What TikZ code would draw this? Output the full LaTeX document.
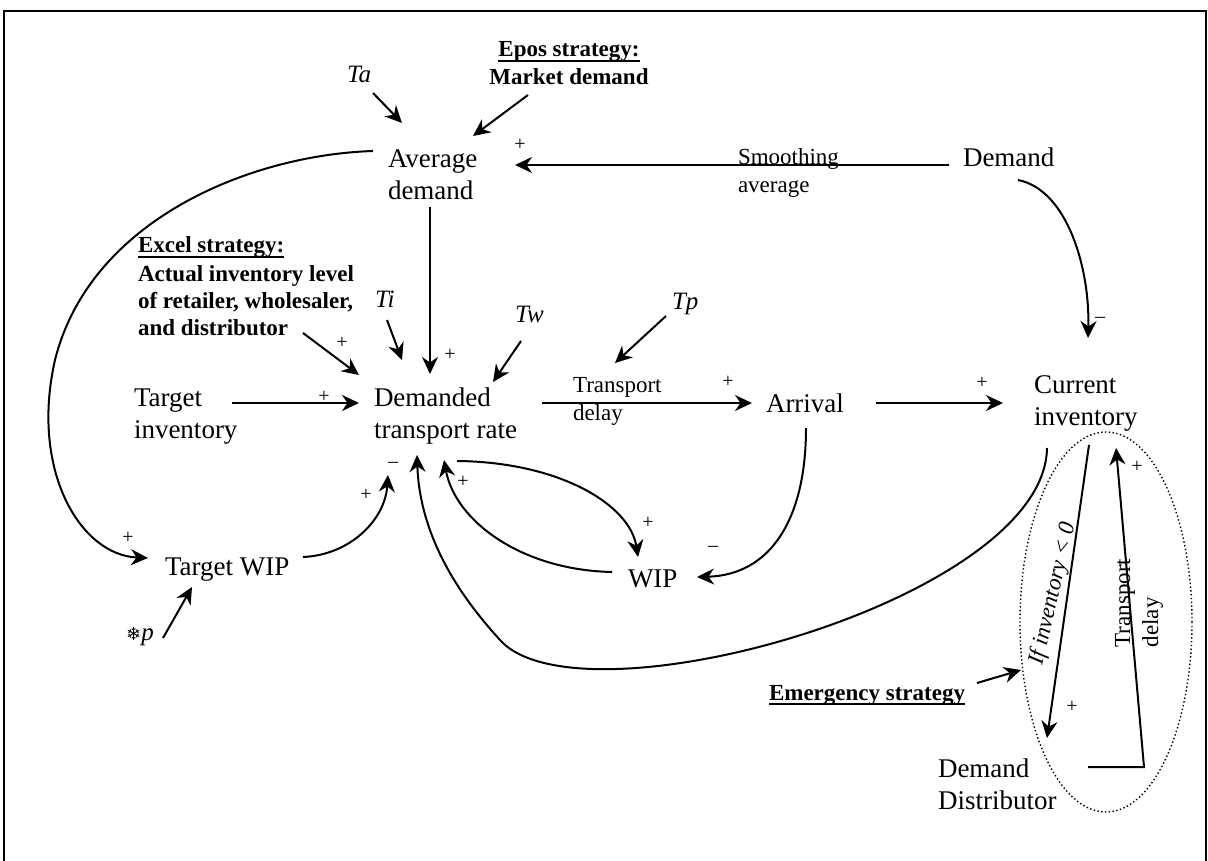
\documentclass[tikz,border=0pt]{standalone}
\usepackage{fontspec}
\setmainfont{Liberation Serif}
\newfontfamily\djv{DejaVu Sans}
\usetikzlibrary{arrows.meta,shapes.geometric}
\newcommand\dgMain{\fontsize{27}{32}\selectfont}
\newcommand\dgSmall{\fontsize{23}{28}\selectfont}
\newcommand\dgBold{\fontsize{23}{27}\selectfont\bfseries}
\newcommand\dgSign{\fontsize{20}{24}\selectfont}
\newcommand\dgT{\fontsize{25}{30}\selectfont\itshape}
\newcommand\mstrut{\rule{0pt}{19pt}}
\newcommand\sstrut{\rule{0pt}{16pt}}
\begin{document}
\begin{tikzpicture}[x=1pt,y=-1pt,
  lbl/.style={inner sep=0pt,outer sep=0pt},
  main/.style={lbl,font=\dgMain,align=left},
  sml/.style={lbl,font=\dgSmall,align=left},
  bld/.style={lbl,font=\dgBold,align=left},
  tl/.style={lbl,font=\dgT},
  sgn/.style={lbl,font=\dgSign},
  conn/.style={line width=2pt,-{Stealth[length=17pt,width=16pt,inset=5.5pt]}},
  uline/.style={line width=1.5pt},
  dotring/.style={line width=1.4pt,dash pattern=on 1.4pt off 2.4pt}]
\useasboundingbox (0,0) rectangle (1208,861);
\draw[line width=2pt] (4,861) -- (4,11) -- (1206,11) -- (1206,861);

% main variables
\node[main,anchor=north west] (avg) at (388,149) {\mstrut Average\\demand};
\node[main,anchor=north west] (dtr) at (374,387) {\mstrut Demanded\\transport rate};
\node[main,anchor=north west] (tinv) at (134,387) {\mstrut Target\\inventory};
\node[main,anchor=north west] (cur) at (1034,374) {\mstrut Current\\inventory};
\node[main,anchor=north west] (dd) at (938,758) {\mstrut Demand\\Distributor};
\node[main,anchor=base west] (dem) at (963,167) {Demand};
\node[main,anchor=base west] (arr) at (766,412) {Arrival};
\node[main,anchor=base west] (twip) at (165,575) {Target WIP};
\node[main,anchor=base west] (wip) at (628,587) {WIP};

% parameters
\node[tl,anchor=base west] (ta) at (347,83) {Ta};
\node[tl,anchor=base west] (ti) at (375,308) {Ti};
\node[tl,anchor=base west] (tw) at (515,322) {Tw};
\node[tl,anchor=base west] (tp) at (672,309) {Tp};
\node[lbl,font=\dgT] (sp) at (140,637) {{\djv\upshape\fontsize{18}{20}\selectfont ❄}p};

% strategies
\node[bld,anchor=base] (epos) at (569,57) {Epos strategy:};
\node[bld,anchor=base] (market) at (569,85) {Market demand};
\node[bld,anchor=base west] (excelh) at (138,253) {Excel strategy:};
\node[bld,anchor=north west] (excelb) at (138,265) {\sstrut Actual inventory level\\of retailer, wholesaler,\\and distributor};
\node[bld,anchor=base west] (emerg) at (769,700) {Emergency strategy};
\draw[uline] ([shift={(0,4)}]epos.base west) -- ([shift={(0,4)}]epos.base east);
\draw[uline] ([shift={(0,4)}]excelh.base west) -- ([shift={(0,4)}]excelh.base east);
\draw[uline] ([shift={(0,4)}]emerg.base west) -- ([shift={(0,4)}]emerg.base east);

% flow labels
\node[sml,anchor=north west] (smooth) at (738,149) {\sstrut Smoothing\\average};
\node[sml,anchor=north west] (tdel) at (573,376) {\sstrut Transport\\delay};
\node[sml,rotate=90] (tdel2) at (1139,603) {Transport\\delay};
\node[sml,rotate=77,font=\dgSmall\itshape] (ifinv) at (1053,594) {If inventory < 0};

% emergency group ring
\draw[dotring] (1106,622) ellipse [x radius=86pt,y radius=190pt];
\coordinate (emtip) at (1021,670);

% signs
\node[sgn] (p1) at (520,145) {+};
\node[sgn] (p2) at (342,343) {+};
\node[sgn] (p3) at (450,355) {+};
\node[sgn] (p4) at (324,397) {+};
\node[sgn] (p5) at (728,382) {+};
\node[sgn] (p6) at (982,383) {+};
\node[sgn] (p7) at (128,538) {+};
\node[sgn] (p8) at (366,495) {+};
\node[sgn] (p9) at (463,482) {+};
\node[sgn] (p10) at (648,523) {+};
\node[sgn] (p11) at (1072,707) {+};
\node[sgn] (p12) at (1137,467) {+};
\node[sgn] (m1) at (393,465) {–};
\node[sgn] (m2) at (1100,320) {–};
\node[sgn] (m3) at (713,549) {–};

% connectors
\draw[conn] ([shift={(26,10)}]ta.base west) -- ([shift={(14,-26)}]avg.north west);
\draw[conn] ([shift={(-41,10)}]market.base) -- ([shift={(85,-13)}]avg.north west);
\draw[conn] ([shift={(-14,-2)}]dem.base west) -- ([shift={(127,16)}]avg.north west);
\draw[conn] ([shift={(42,58)}]avg.north west) -- ([shift={(56,-13)}]dtr.north west);
\draw[conn] ([shift={(165,68)}]excelb.north west) -- ([shift={(-15,-12)}]dtr.north west);
\draw[conn] ([shift={(12,12)}]ti.base west) -- ([shift={(28,-27)}]dtr.north west);
\draw[conn] ([shift={(6,19)}]tw.base west) -- ([shift={(119,-5)}]dtr.north west);
\draw[conn] ([shift={(-6,7)}]tp.base west) -- ([shift={(42,-13)}]tdel.north west);
\draw[conn] ([shift={(98,16)}]tinv.north west) -- ([shift={(-15,16)}]dtr.north west);
\draw[conn] ([shift={(168,16)}]dtr.north west) -- ([shift={(-14,-9)}]arr.base west);
\draw[conn] ([shift={(110,-9)}]arr.base west) -- ([shift={(-31,29)}]cur.north west);
\draw[conn] ([shift={(55,13)}]dem.base west) .. controls +(50,10) and +(2,-68) .. ([shift={(54,-36)}]cur.north west);
\draw[conn] ([shift={(-15,2)}]avg.north west) .. controls +(-123,4) and +(35,-140) .. (55,360)
            .. controls +(-25,110) and +(-68,-3) .. ([shift={(-17,-17)}]twip.base west);
\draw[conn] ([shift={(138,-18)}]twip.base west) .. controls +(47,-2) and +(-3,45) .. ([shift={(14,88)}]dtr.north west);
\draw[conn] ([shift={(-16,-15)}]wip.base west) .. controls +(-92,-2) and +(11,60) .. ([shift={(70,73)}]dtr.north west);
\draw[conn] ([shift={(83,74)}]dtr.north west) .. controls +(103,1) and +(-8,-52) .. ([shift={(10,-30)}]wip.base west);
\draw[conn] ([shift={(40,16)}]arr.base west) .. controls +(0,92) and +(73,-2) .. ([shift={(69,-10)}]wip.base west);
\draw[conn] ([shift={(13,74)}]cur.north west) .. controls +(-2,152) and +(80,89) .. (500,640)
            .. controls +(-30,-33) and +(3,90) .. ([shift={(43,68)}]dtr.north west);
\draw[conn] ([shift={(55,71)}]cur.north west) -- ([shift={(109,-20)}]dd.north west);
\draw[conn] ([shift={(150,9)}]dd.north west) -- (1144,767) -- ([shift={(82,74)}]cur.north west);
\draw[conn] ([shift={(208,-17)}]emerg.base west) -- (emtip);
\draw[conn] ([shift={(23,1)}]sp.center) -- ([shift={(27,12)}]twip.base west);
\end{tikzpicture}
\end{document}
